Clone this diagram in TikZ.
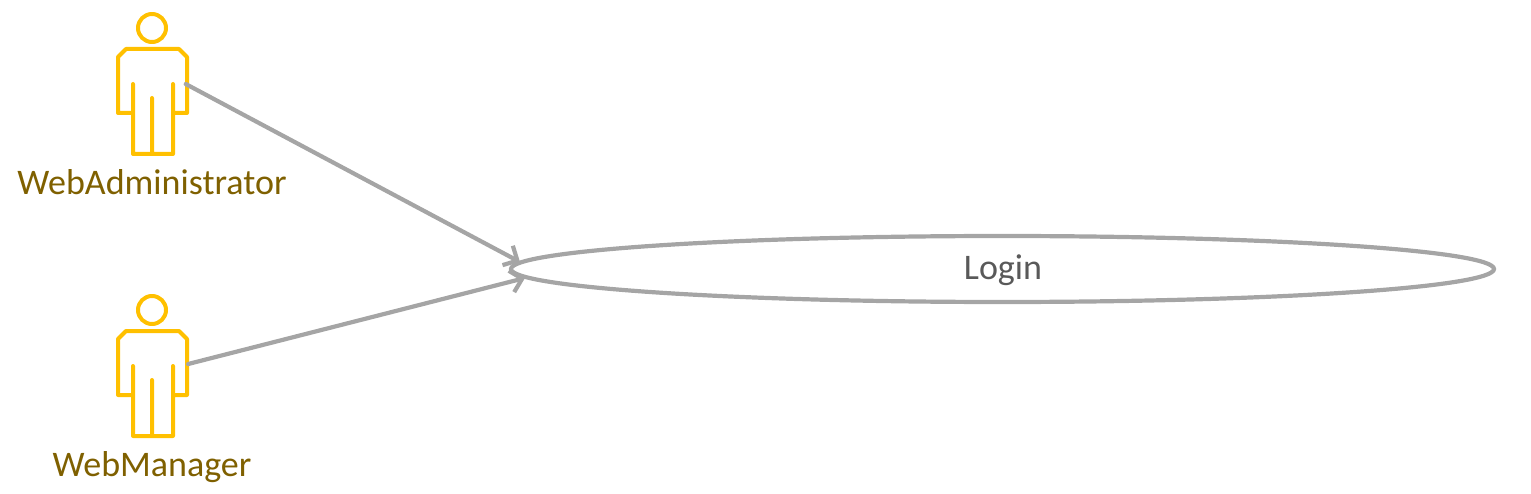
\documentclass[tikz,border=0pt]{standalone}
\usepackage{fontspec}
\setmainfont{Carlito}
\usetikzlibrary{arrows.meta}
\usetikzlibrary{shapes.geometric}
\definecolor{actoryellow}{HTML}{FFC000}
\definecolor{actortext}{HTML}{7F6000}
\definecolor{linegray}{HTML}{A5A5A5}
\definecolor{usecasetext}{HTML}{595959}
\tikzset{
  person/.pic={
    \draw[actoryellow,line width=4pt,line join=round,line cap=round]
      (0,-56) circle (14)
      (-19,0) -- (-19,70) -- (21,70) -- (21,0)
      (0,70) -- (0,14)
      (-19,29) -- (-34,29) -- (-34,-27) -- (-26,-35) -- (27,-35) -- (35,-27) -- (35,29) -- (21,29);
  },
  actorname/.style={text=actortext,font=\fontsize{36}{40}\selectfont},
  actorbox/.style={minimum width=69pt,minimum height=140pt,inner sep=0pt},
  flow/.style={-{Straight Barb[length=11pt,width=22pt,line width=4.2pt]},linegray,line width=4.2pt,line cap=round},
}
\begin{document}
\begin{tikzpicture}[x=1pt,y=-1pt]
            \useasboundingbox (0,0) rectangle (1531,494);
            \pic at (152,84) {person};
            \pic at (152,366) {person};
            \node[actorbox] (admin) at (151,84) {};
            \node[actorbox] (manager) at (153.5,364) {};
            \node[actorname] (adminname) at (152,182.5) {WebAdministrator};
            \node[actorname] (managername) at (152,467) {WebManager};
            \node[draw=linegray,line width=4.2pt,ellipse,inner sep=0pt,minimum width=983pt,minimum height=66pt] (login) at (1002.5,269) {};
            \node[text=usecasetext,font=\fontsize{36}{40}\selectfont] (logintext) at (1003,270) {Login};
            \coordinate (admintip) at (520,262);
            \coordinate (managertip) at (525,278);
            \draw[flow] (admin.east) -- (admintip);
            \draw[flow] (manager.east) -- (managertip);
        \end{tikzpicture}
\end{document}
